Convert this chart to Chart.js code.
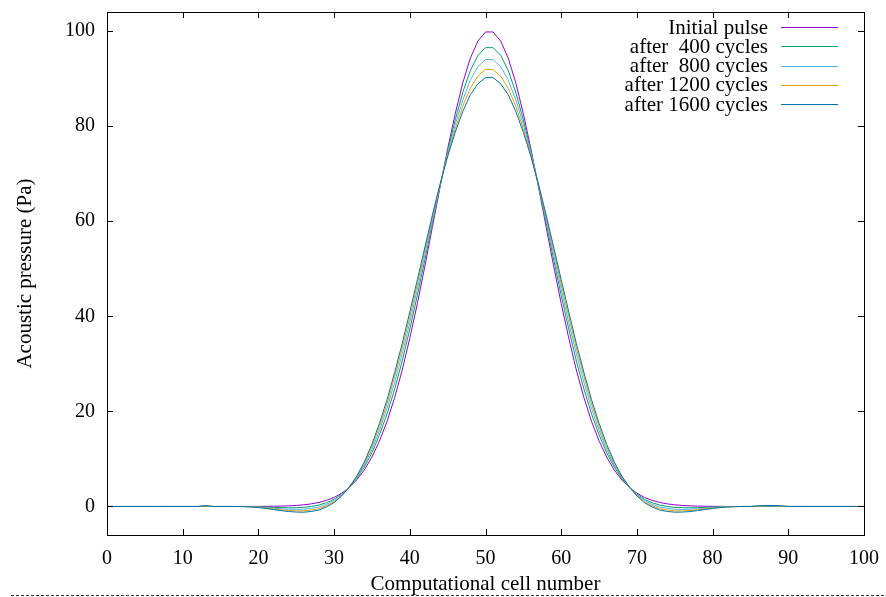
<!DOCTYPE html>
<html><head><meta charset="utf-8">
<script src="https://cdn.jsdelivr.net/npm/chart.js@4.4.1/dist/chart.umd.min.js"></script>
<style>html,body{margin:0;padding:0;background:#fff;}canvas{display:block;}</style>
</head><body>
<canvas id="c" width="886" height="597"></canvas>
<script>
const cells = [0,1,2,3,4,5,6,7,8,9,10,11,12,13,14,15,16,17,18,19,20,21,22,23,24,25,26,27,28,29,30,31,32,33,34,35,36,37,38,39,40,41,42,43,44,45,46,47,48,49,50,51,52,53,54,55,56,57,58,59,60,61,62,63,64,65,66,67,68,69,70,71,72,73,74,75,76,77,78,79,80,81,82,83,84,85,86,87,88,89,90,91,92,93,94,95,96,97,98,99,100];

const initialPulse = [
 0,0,0,0,0,0,0,0,0,0,
 0,0,0,0,0,0,0,0,0,0,
 0.02,0.03,0.05,0.08,0.13,0.22,0.35,0.55,0.85,1.3,
 1.9,2.8,4.0,5.6,7.7,10.4,13.8,17.9,22.9,28.7,
 35.4,42.7,50.6,58.9,67.2,75.2,82.6,89.1,94.3,97.9,
 99.8,99.8,97.9,94.3,89.1,82.6,75.2,67.2,58.9,50.6,
 42.7,35.4,28.7,22.9,17.9,13.8,10.4,7.7,5.6,4.0,
 2.8,1.9,1.3,0.85,0.55,0.35,0.22,0.13,0.08,0.05,
 0.03,0.02,0,0,0,0,0,0,0,0,
 0,0,0,0,0,0,0,0,0,0,
 0];

const after400 = [
 0,0,0,0,0,0,0,0,0,0,
 0,0,0,0,0,0,0,0,0,-0.03,
 -0.06,-0.12,-0.19,-0.24,-0.28,-0.26,-0.18,0.0,0.3,0.8,
 1.5,2.6,4.0,5.9,8.3,11.3,15.1,19.5,24.7,30.6,
 37.3,44.4,52.0,59.8,67.4,74.7,81.3,87.1,91.7,94.9,
 96.5,96.5,94.9,91.7,87.1,81.3,74.7,67.4,59.8,52.0,
 44.4,37.3,30.6,24.7,19.5,15.1,11.3,8.3,5.9,4.0,
 2.6,1.5,0.8,0.3,0.0,-0.18,-0.26,-0.28,-0.24,-0.19,
 -0.12,-0.06,-0.03,0,0,0,0,0,0,0,
 0,0,0,0,0,0,0,0,0,0,
 0];

const after800 = [
 0,0,0,0,0,0,0,0,0,0,
 0,0,0,0.1,0,0,0,0,-0.02,-0.06,
 -0.13,-0.24,-0.37,-0.49,-0.59,-0.63,-0.58,-0.4,-0.1,0.45,
 1.3,2.5,4.1,6.1,8.7,12.0,16.0,20.7,26.1,32.1,
 38.7,45.7,53.0,60.4,67.6,74.3,80.3,85.5,89.7,92.5,
 94.0,94.0,92.5,89.7,85.5,80.3,74.3,67.6,60.4,53.0,
 45.7,38.7,32.1,26.1,20.7,16.0,12.0,8.7,6.1,4.1,
 2.5,1.3,0.45,-0.1,-0.4,-0.58,-0.63,-0.59,-0.49,-0.37,
 -0.24,-0.13,-0.06,-0.02,0,0,0,0.1,0.1,0,
 0,0,0,0,0,0,0,0,0,0,
 0];

const after1200 = [
 0,0,0,0,0,0,0,0,0,0,
 0,0,0,0.15,0,0,0,0,-0.02,-0.08,
 -0.18,-0.34,-0.52,-0.7,-0.85,-0.93,-0.92,-0.75,-0.45,0.15,
 1.0,2.3,4.1,6.3,9.1,12.6,16.8,21.7,27.3,33.3,
 39.9,46.8,53.9,61.0,67.7,73.9,79.4,84.2,88.0,90.5,
 91.9,91.9,90.5,88.0,84.2,79.4,73.9,67.7,61.0,53.9,
 46.8,39.9,33.3,27.3,21.7,16.8,12.6,9.1,6.3,4.1,
 2.3,1.0,0.15,-0.45,-0.75,-0.92,-0.93,-0.85,-0.7,-0.52,
 -0.34,-0.18,-0.08,-0.02,0,0,0.1,0.15,0.15,0.1,
 0,0,0,0,0,0,0,0,0,0,
 0];

const after1600 = [
 0,0,0,0,0,0,0,0,0,0,
 0,0,0,0.2,0,0,0,0,-0.03,-0.1,
 -0.23,-0.42,-0.65,-0.87,-1.07,-1.18,-1.2,-1.05,-0.75,-0.1,
 0.8,2.2,4.1,6.4,9.4,13.1,17.5,22.5,28.2,34.3,
 40.9,47.7,54.6,61.4,67.8,73.6,78.7,83.1,86.6,88.9,
 90.2,90.2,88.9,86.6,83.1,78.7,73.6,67.8,61.4,54.6,
 47.7,40.9,34.3,28.2,22.5,17.5,13.1,9.4,6.4,4.1,
 2.2,0.8,-0.1,-0.75,-1.05,-1.2,-1.18,-1.07,-0.87,-0.65,
 -0.42,-0.23,-0.1,-0.03,0,0,0.15,0.2,0.2,0.15,
 0,0,0,0,0,0,0,0,0,0,
 0];

const seriesLabels = ['Initial pulse', 'after  400 cycles', 'after  800 cycles', 'after 1200 cycles', 'after 1600 cycles'];
const seriesColors = ['#9400d3', '#009e73', '#56b4e9', '#e69f00', '#0072b2'];
const seriesValues = [initialPulse, after400, after800, after1200, after1600];
const xTickValues = [0,10,20,30,40,50,60,70,80,90,100];
const yTickValues = [0,20,40,60,80,100];
const xTitle = 'Computational cell number';
const yTitle = 'Acoustic pressure (Pa)';

const FONT = 'Liberation Serif';

const datasets = seriesValues.map((vals, i) => ({
  label: seriesLabels[i],
  data: cells.map((c, j) => ({x: c, y: vals[j]})),
  borderColor: seriesColors[i],
  backgroundColor: seriesColors[i],
  borderWidth: 1,
  pointRadius: 0,
  tension: 0,
  fill: false,
  order: seriesValues.length - i
}));

const framePlugin = {
  id: 'frame',
  afterDatasetsDraw(chart) {
    const {ctx, chartArea: a, scales: {x, y}} = chart;
    ctx.save();
    ctx.strokeStyle = '#000';
    ctx.lineWidth = 1;
    ctx.beginPath();
    xTickValues.forEach(v => {
      const px = Math.round(x.getPixelForValue(v)) + 0.5;
      ctx.moveTo(px, a.bottom); ctx.lineTo(px, a.bottom - 6);
      ctx.moveTo(px, a.top); ctx.lineTo(px, a.top + 6);
    });
    yTickValues.forEach(v => {
      const py = Math.round(y.getPixelForValue(v)) + 0.5;
      ctx.moveTo(a.left, py); ctx.lineTo(a.left + 6, py);
      ctx.moveTo(a.right, py); ctx.lineTo(a.right - 6, py);
    });
    ctx.stroke();
    ctx.strokeRect(Math.round(a.left) + 0.5, Math.round(a.top) + 0.5,
                   Math.round(a.right - a.left), Math.round(a.bottom - a.top));
    // legend (text right of which the line sample sits)
    ctx.font = '21px "' + FONT + '"';
    ctx.textAlign = 'right';
    ctx.textBaseline = 'middle';
    chart.data.datasets.forEach((ds, i) => {
      const yy = a.top + 15 + i * 19.25;
      ctx.fillStyle = '#000';
      ctx.fillText(ds.label, a.right - 96, yy + 1);
      ctx.strokeStyle = ds.borderColor;
      ctx.beginPath();
      ctx.moveTo(a.right - 83, Math.round(yy) + 0.5);
      ctx.lineTo(a.right - 26, Math.round(yy) + 0.5);
      ctx.stroke();
    });
    // dashed separator line at the bottom of the figure
    ctx.strokeStyle = '#333';
    ctx.setLineDash([3, 2]);
    ctx.beginPath();
    ctx.moveTo(11, 595.5);
    ctx.lineTo(886, 595.5);
    ctx.stroke();
    ctx.restore();
  }
};

new Chart(document.getElementById('c'), {
  type: 'line',
  data: {datasets},
  options: {
    responsive: false,
    animation: false,
    devicePixelRatio: 1,
    layout: {padding: {left: 0, right: 22, top: 12, bottom: 0}},
    plugins: {legend: {display: false}, tooltip: {enabled: false}},
    scales: {
      x: {
        type: 'linear', min: 0, max: 100,
        afterBuildTicks: s => { s.ticks = xTickValues.map(v => ({value: v})); },
        afterFit: s => { s.height = 62; s.paddingLeft = 0; s.paddingRight = 0; s.paddingTop = 0; s.paddingBottom = 0; },
        grid: {display: false, drawTicks: false},
        border: {display: false},
        ticks: {color: '#000', padding: 12, maxRotation: 0, font: {family: FONT, size: 20}},
        title: {display: true, text: xTitle, color: '#000', font: {family: FONT, size: 21}, padding: {top: 0, bottom: 0}}
      },
      y: {
        type: 'linear', min: -6, max: 104,
        afterBuildTicks: s => { s.ticks = yTickValues.map(v => ({value: v})); },
        afterFit: s => { s.width = 107; s.paddingLeft = 0; s.paddingRight = 0; s.paddingTop = 0; s.paddingBottom = 0; },
        grid: {display: false, drawTicks: false},
        border: {display: false},
        ticks: {color: '#000', padding: 12, font: {family: FONT, size: 20}},
        title: {display: true, text: yTitle, color: '#000', font: {family: FONT, size: 21}, padding: {top: 13, bottom: 0}}
      }
    }
  },
  plugins: [framePlugin]
});
</script>
</body></html>
